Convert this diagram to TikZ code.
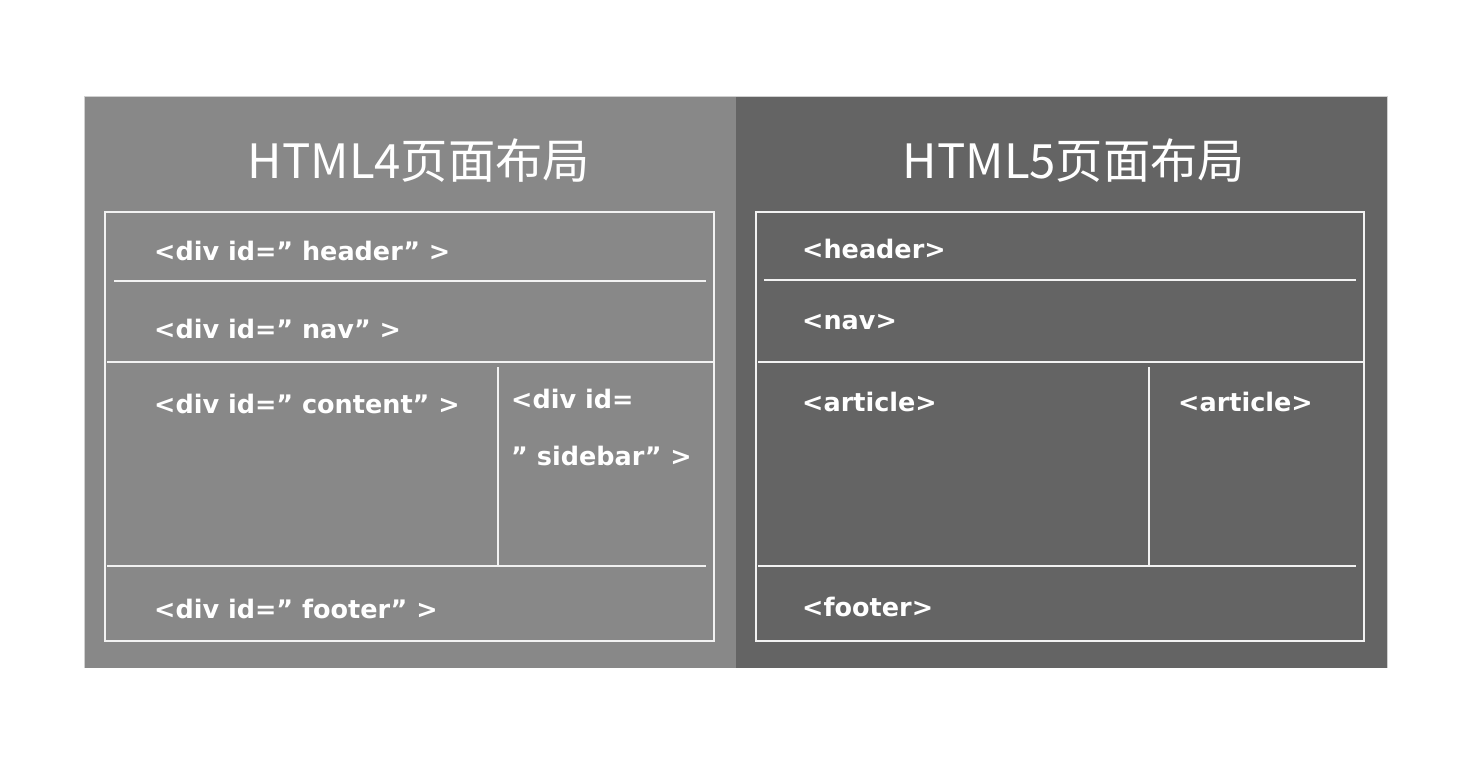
\documentclass[tikz,border=0pt]{standalone}
\usepackage{fontspec}
\newfontfamily\cjk{Noto Sans CJK SC}
\newfontfamily\lab{DejaVu Sans}
\definecolor{leftbg}{HTML}{888888}
\definecolor{rightbg}{HTML}{646464}
\definecolor{edge}{HTML}{D0D0D0}
\definecolor{wline}{HTML}{F2F2F2}
\begin{document}
\begin{tikzpicture}[x=1pt,y=-1pt,
  frame/.style={draw=wline,line width=2pt},
  divline/.style={draw=wline,line width=2pt},
  title/.style={text=white,font=\cjk\fontsize{47.3}{52}\selectfont,inner sep=0pt},
  lbl/.style={text=white,font=\lab\bfseries\fontsize{25.5}{28}\selectfont,inner sep=0pt,anchor=west}]
\useasboundingbox (0,0) rectangle (1473,769);
\fill[white] (0,0) rectangle (1473,769);
% panels
\fill[leftbg] (85,97) rectangle (736,668);
\fill[rightbg] (736,97) rectangle (1387,668);
\draw[edge,line width=1pt] (84.5,668) -- (84.5,96.5) -- (1387.5,96.5) -- (1387.5,668);
% titles
\node[title] (t4) at (419,161) {HTML4页面布局};
\node[title] (t5) at (1074,161) {HTML5页面布局};
% left frame
\draw[frame] (105,212) rectangle (714,641);
\draw[divline] (114,281) -- (706,281);
\draw[divline] (107,362) -- (714,362);
\draw[divline] (498,367) -- (498,566);
\draw[divline] (107,566) -- (706,566);
% right frame
\draw[frame] (756,212) rectangle (1364,641);
\draw[divline] (764,280) -- (1356,280);
\draw[divline] (758,362) -- (1364,362);
\draw[divline] (1149,367) -- (1149,566);
\draw[divline] (758,566) -- (1356,566);
% left labels
\node[lbl] (lh) at (154,251) {<div id=” header” >};
\node[lbl] (ln) at (154,329) {<div id=” nav” >};
\node[lbl] (lc) at (154,404) {<div id=” content” >};
\node[lbl] (ls1) at (511,399) {<div id=};
\node[lbl] (ls2) at (511,456) {” sidebar” >};
\node[lbl] (lf) at (154,609) {<div id=” footer” >};
% right labels
\node[lbl] (rh) at (802,249) {<header>};
\node[lbl] (rn) at (802,322) {<nav>};
\node[lbl] (ra1) at (802,402) {<article>};
\node[lbl] (ra2) at (1178,402) {<article>};
\node[lbl] (rf) at (802,607) {<footer>};
\end{tikzpicture}
\end{document}
